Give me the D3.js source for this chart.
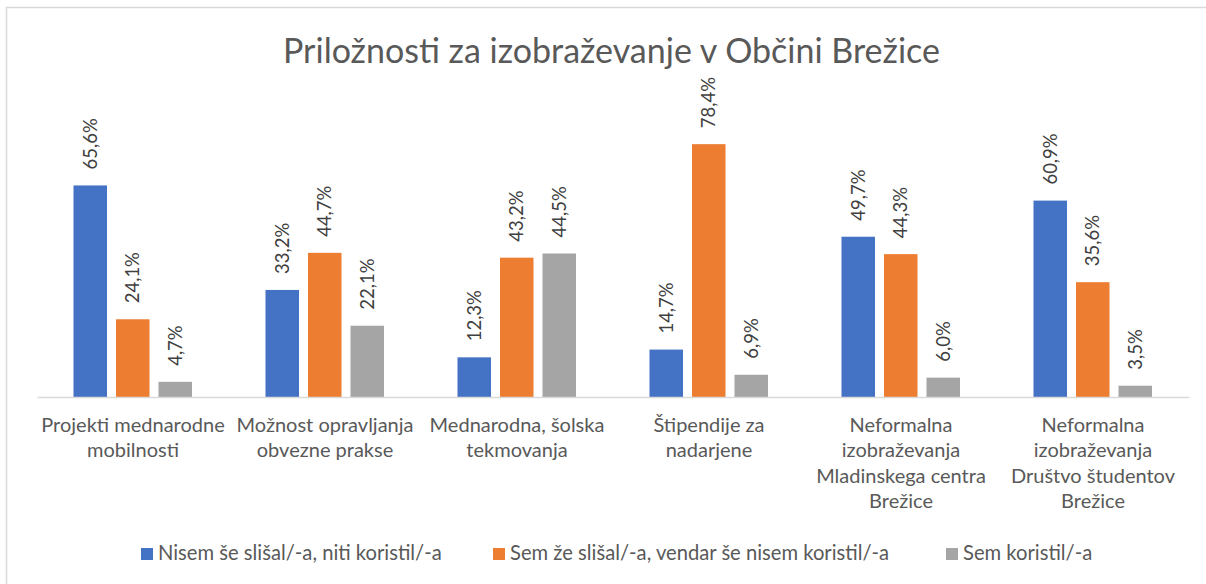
<!DOCTYPE html>
<html>
<head>
<meta charset="utf-8">
<script src="https://cdn.jsdelivr.net/npm/d3@7"></script>
<style>
  html, body { margin: 0; padding: 0; background: #fff; }
  svg { display: block; font-family: Lato, "Noto Sans", sans-serif; }
</style>
</head>
<body>
<svg id="chart" width="1206" height="584"></svg>
<script>
const title = "Priložnosti za izobraževanje v Občini Brežice";
const categories = [
  ["Projekti mednarodne", "mobilnosti"],
  ["Možnost opravljanja", "obvezne prakse"],
  ["Mednarodna, šolska", "tekmovanja"],
  ["Štipendije za", "nadarjene"],
  ["Neformalna", "izobraževanja", "Mladinskega centra", "Brežice"],
  ["Neformalna", "izobraževanja", "Društvo študentov", "Brežice"]
];
const seriesNames = [
  "Nisem še slišal/-a, niti koristil/-a",
  "Sem že slišal/-a, vendar še nisem koristil/-a",
  "Sem koristil/-a"
];
const notHeard = [65.6, 33.2, 12.3, 14.7, 49.7, 60.9];
const heardNotUsed = [24.1, 44.7, 43.2, 78.4, 44.3, 35.6];
const used = [4.7, 22.1, 44.5, 6.9, 6.0, 3.5];
const colors = ["#4472C4", "#ED7D31", "#A5A5A5"];

const series = [notHeard, heardNotUsed, used];
const svg = d3.select("#chart");

// frame (chart area border, only top and left visible)
svg.append("rect").attr("x", 6.5).attr("y", 7.5).attr("width", 1220).attr("height", 600)
  .attr("fill", "#fff").attr("stroke", "#d9d9d9").attr("stroke-width", 1.5);

// cut-off glyph from the document above
svg.append("text").attr("x", 452).attr("y", -4).attr("font-size", 22).attr("font-weight", "bold")
  .attr("fill", "#000").text("j");

// title
svg.append("text").attr("x", 611.5).attr("y", 63).attr("text-anchor", "middle")
  .attr("font-size", 34).attr("fill", "#595959").text(title);

const x0 = d3.scaleBand().domain(d3.range(categories.length)).range([37, 1189]).padding(0);
const x1 = d3.scaleBand().domain(d3.range(series.length)).range([36.5, 155]).paddingInner(0.212);
const y = d3.scaleLinear().domain([0, 90]).range([397, 106.75]);

const groups = svg.append("g").selectAll("g").data(categories).join("g")
  .attr("transform", (d, i) => `translate(${x0(i)},0)`);

series.forEach((vals, s) => {
  groups.append("rect")
    .attr("x", x1(s))
    .attr("width", x1.bandwidth())
    .attr("y", (d, i) => y(vals[i]))
    .attr("height", (d, i) => y(0) - y(vals[i]))
    .attr("fill", colors[s]);
  groups.append("text")
    .attr("transform", (d, i) => `translate(${x1(s) + x1.bandwidth() / 2 + 6.5},${y(vals[i]) - 16}) rotate(-90)`)
    .attr("font-size", 18.5)
    .attr("fill", "#404040")
    .text((d, i) => d3.format(".1f")(vals[i]).replace(".", ",") + "%");
});

// x axis
const axis = svg.append("g").attr("transform", "translate(0,397)")
  .call(d3.axisBottom(x0).tickSize(0).tickSizeOuter(0).tickFormat(""));
axis.select(".domain").attr("stroke", "#d9d9d9").attr("stroke-width", 1.5);
axis.selectAll(".tick text").remove();
axis.selectAll(".tick").append("text")
  .attr("text-anchor", "middle")
  .attr("font-size", 20)
  .attr("fill", "#595959")
  .attr("font-family", "Lato, sans-serif")
  .each(function(d) {
    const t = d3.select(this);
    categories[d].forEach((line, k) => {
      t.append("tspan").attr("x", 0).attr("y", 35 + k * 25.3).text(line);
    });
  });

// legend
const legendX = [141, 493, 946];
const legend = svg.append("g").selectAll("g").data(seriesNames).join("g")
  .attr("transform", (d, i) => `translate(${legendX[i]},548)`);
legend.append("rect").attr("width", 12).attr("height", 12).attr("fill", (d, i) => colors[i]);
legend.append("text").attr("x", 17).attr("y", 12).attr("font-size", 20.2).attr("fill", "#595959").text(d => d);
</script>
</body>
</html>
